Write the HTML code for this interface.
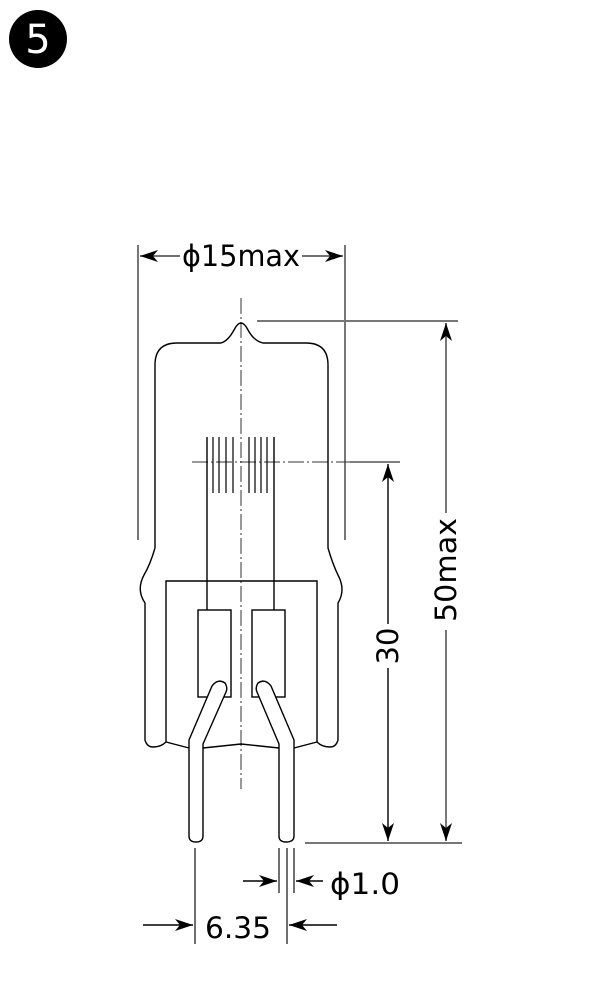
<!DOCTYPE html>
<html><head><meta charset="utf-8"><style>html,body{margin:0;padding:0;background:#fff}svg{display:block}</style></head>
<body>
<svg width="600" height="1000" viewBox="0 0 600 1000" xmlns="http://www.w3.org/2000/svg" font-family="'DejaVu Sans','Liberation Sans',sans-serif">
<defs>
<marker id="b" viewBox="0 0 18 12" refX="18" refY="6" markerWidth="18" markerHeight="12" markerUnits="userSpaceOnUse" orient="auto"><path d="M0,0 L18,6 L0,12 L5,6 Z" fill="#000"/></marker>
</defs>
<circle cx="38" cy="39" r="29" fill="#000"/>
<text x="38" y="53" font-size="40" fill="#fff" text-anchor="middle">5</text>

<g stroke="#777" stroke-width="2">
<line x1="138" y1="245" x2="138" y2="540"/>
<line x1="345" y1="245" x2="345" y2="540"/>
<line x1="257" y1="321" x2="458" y2="321"/>
<line x1="305" y1="843" x2="462" y2="843"/>
</g>
<line x1="180" y1="256" x2="140" y2="256" stroke="#444" stroke-width="1.5" marker-end="url(#b)"/>
<line x1="302" y1="256" x2="343" y2="256" stroke="#444" stroke-width="1.5" marker-end="url(#b)"/>
<text x="241" y="266" font-size="29" text-anchor="middle" textLength="118" lengthAdjust="spacingAndGlyphs" fill="#000">ϕ15max</text>

<line x1="241" y1="298" x2="241" y2="789" stroke="#333" stroke-width="1" stroke-dasharray="16,3,2,3"/>
<line x1="192" y1="462" x2="400" y2="462" stroke="#333" stroke-width="1" stroke-dasharray="16,3,2,3"/>

<g fill="none" stroke="#000" stroke-width="1.4">
<path d="M155,548 L155,365 Q155,343 177,343 L221,343 Q228,341 234,330 Q241,316 248,330 Q254,341 263,343 L306,343 Q328,343 328,365 L328,548 Q333,565 338,575 Q346,590 338,603 L338,740 Q336,747 330,747 Q322,747 317,742 L294,748"/>
<path d="M155,548 Q150,565 144,575 Q136,590 145,603 L145,740 Q147,747 153,747 Q161,747 166,742 L189,748"/>
<path d="M166,742 L166,581 L317,581 L317,742"/>
<path d="M203,748 L241,744 L279,748"/>
<rect x="198" y="610" width="33" height="87"/>
<rect x="252" y="610" width="33" height="87"/>
<line x1="207" y1="437" x2="207" y2="610"/>
<line x1="274" y1="437" x2="274" y2="610"/>
<g stroke-width="1.2">
<line x1="213" y1="437" x2="213" y2="493"/><line x1="219" y1="437" x2="219" y2="493"/><line x1="226" y1="437" x2="226" y2="493"/><line x1="233" y1="437" x2="233" y2="493"/>
<line x1="249" y1="437" x2="249" y2="493"/><line x1="255" y1="437" x2="255" y2="493"/><line x1="261" y1="437" x2="261" y2="493"/><line x1="267" y1="437" x2="267" y2="493"/>
</g>
<path d="M189,740 L212,686 Q218,678 225,683 Q228,688 226,692 L203,744 L203,836 Q203,842 196,842 Q189,842 189,836 Z" fill="#fff"/>
<path d="M294,740 L271,686 Q265,678 258,683 Q255,688 257,692 L279,744 L279,836 Q279,842 286,842 Q294,842 294,836 Z" fill="#fff"/>
</g>

<line x1="388" y1="624" x2="388" y2="464" stroke="#000" stroke-width="1.4" marker-end="url(#b)"/>
<line x1="388" y1="668" x2="388" y2="841" stroke="#000" stroke-width="1.4" marker-end="url(#b)"/>
<line x1="350" y1="462" x2="400" y2="462" stroke="#000" stroke-width="1"/>
<text transform="translate(398,646) rotate(-90)" font-size="29" text-anchor="middle">30</text>
<line x1="446" y1="513" x2="446" y2="323" stroke="#777" stroke-width="2" marker-end="url(#b)"/>
<line x1="446" y1="630" x2="446" y2="841" stroke="#777" stroke-width="2" marker-end="url(#b)"/>
<text transform="translate(456,570) rotate(-90)" font-size="29" text-anchor="middle" textLength="104" lengthAdjust="spacingAndGlyphs">50max</text>

<g stroke="#333" stroke-width="1.4">
<line x1="195" y1="848" x2="195" y2="944"/>
<line x1="279" y1="848" x2="279" y2="893"/>
<line x1="287" y1="848" x2="287" y2="944"/>
<line x1="294" y1="848" x2="294" y2="893"/>
</g>
<line x1="243" y1="881" x2="277" y2="881" stroke="#000" stroke-width="1.4" marker-end="url(#b)"/>
<line x1="323" y1="881" x2="296" y2="881" stroke="#000" stroke-width="1.4" marker-end="url(#b)"/>
<text x="330" y="894" font-size="29" textLength="70" lengthAdjust="spacingAndGlyphs">ϕ1.0</text>
<line x1="143" y1="925" x2="193" y2="925" stroke="#000" stroke-width="1.4" marker-end="url(#b)"/>
<line x1="337" y1="925" x2="289" y2="925" stroke="#000" stroke-width="1.4" marker-end="url(#b)"/>
<text x="205" y="938" font-size="29" textLength="66" lengthAdjust="spacingAndGlyphs">6.35</text>
</svg>
</body></html>
